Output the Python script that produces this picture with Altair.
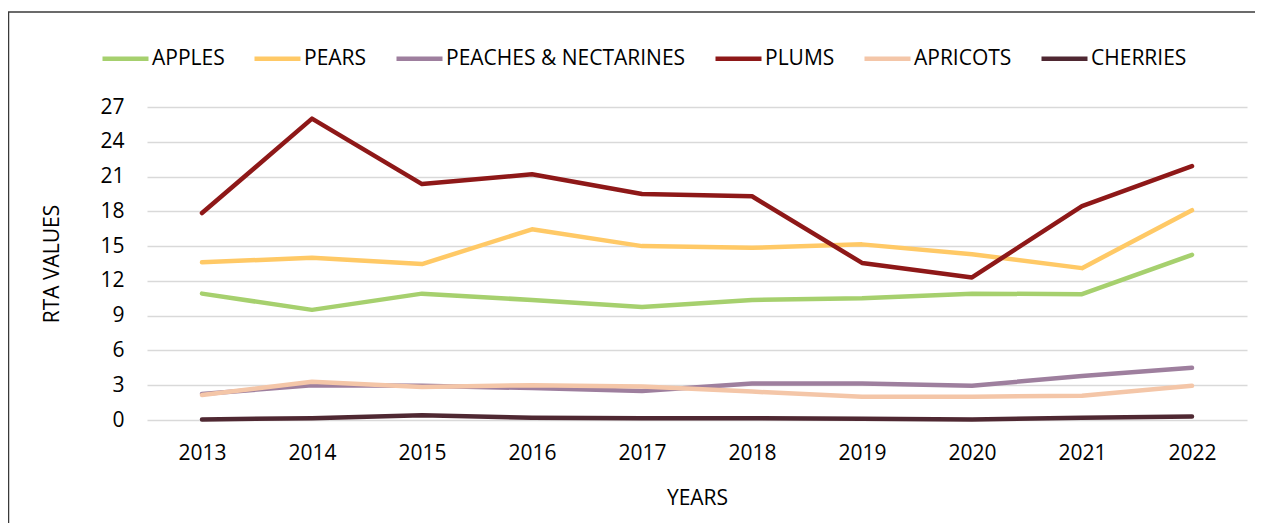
import altair as alt
import pandas as pd

years = ["2013", "2014", "2015", "2016", "2017", "2018", "2019", "2020", "2021", "2022"]
series_names = ["APPLES", "PEARS", "PEACHES & NECTARINES", "PLUMS", "APRICOTS", "CHERRIES"]
series_colors = ["#A6D06E", "#FFC966", "#9E7F9E", "#8E1818", "#F4C6A8", "#4F2832"]

apples = [10.9, 9.5, 10.9, 10.35, 9.75, 10.35, 10.5, 10.9, 10.85, 14.25]
pears = [13.6, 14.0, 13.45, 16.45, 15.0, 14.85, 15.15, 14.3, 13.1, 18.1]
peaches = [2.25, 3.0, 2.95, 2.75, 2.5, 3.15, 3.15, 2.95, 3.8, 4.5]
plums = [17.85, 26.0, 20.35, 21.2, 19.5, 19.3, 13.55, 12.3, 18.45, 21.9]
apricots = [2.15, 3.3, 2.85, 3.0, 2.9, 2.45, 2.0, 2.0, 2.1, 2.95]
cherries = [0.05, 0.15, 0.4, 0.2, 0.15, 0.15, 0.1, 0.05, 0.2, 0.3]

y_ticks = [0, 3, 6, 9, 12, 15, 18, 21, 24, 27]

values = [apples, pears, peaches, plums, apricots, cherries]
rows = []
for name, vals in zip(series_names, values):
    for yr, v in zip(years, vals):
        rows.append({"year": yr, "series": name, "value": v})
df = pd.DataFrame(rows)

FONT = "Open Sans"

lines = alt.Chart(df).mark_line(strokeWidth=4.5, strokeCap="round", strokeJoin="round").encode(
    x=alt.X("year:O", sort=years,
            scale=alt.Scale(type="point", padding=0.5),
            axis=alt.Axis(title="YEARS", labelAngle=0, domain=False, ticks=False, tickSize=0,
                          grid=False, labelFontSize=21, labelFont=FONT, labelColor="#000000",
                          labelBaseline="alphabetic", labelPadding=39,
                          titleFontSize=21, titleFont=FONT, titleFontWeight="normal",
                          titleColor="#000000", titleX=550, titleY=78, titleBaseline="middle")),
    y=alt.Y("value:Q",
            scale=alt.Scale(domain=[0, 27], nice=False, zero=True),
            axis=alt.Axis(title="RTA VALUES", values=y_ticks, domain=False, ticks=False, tickSize=0,
                          grid=True, gridColor="#D9D9D9", gridWidth=1.5,
                          labelFontSize=21, labelFont=FONT, labelColor="#000000", labelPadding=23,
                          titleFontSize=21, titleFont=FONT, titleFontWeight="normal",
                          titleColor="#000000", titleAngle=270, titleX=-95, titleY=156.5,
                          titleAlign="center", titleBaseline="middle")),
    color=alt.Color("series:N",
                    scale=alt.Scale(domain=series_names, range=series_colors),
                    legend=alt.Legend(title=None, orient="none", legendX=-47, legendY=-74,
                                      direction="horizontal", columns=6, symbolType="stroke",
                                      symbolSize=2116, symbolStrokeWidth=4.5, labelOffset=1,
                                      columnPadding=20, labelFontSize=21, labelFont=FONT,
                                      labelColor="#000000", labelLimit=400)),
    detail="series:N",
)

frame_df = pd.DataFrame({"k": [0]})
left_edge = alt.Chart(frame_df).mark_rule(color="#3A3A3A", strokeWidth=1.5).encode(
    x=alt.value(-138.5), y=alt.value(-95), y2=alt.value(424))
top_edge = alt.Chart(frame_df).mark_rule(color="#3A3A3A", strokeWidth=1.5).encode(
    x=alt.value(-139), x2=alt.value(1108), y=alt.value(-95))

chart = alt.layer(lines, left_edge, top_edge).properties(
    width=1100, height=313,
    padding={"left": 139, "top": 99, "right": 8, "bottom": 103},
    autosize=alt.AutoSizeParams(type="none"),
    background="#FFFFFF",
).configure_view(stroke=None)

chart.save("out.html", embed_options={"renderer": "svg", "actions": False})
